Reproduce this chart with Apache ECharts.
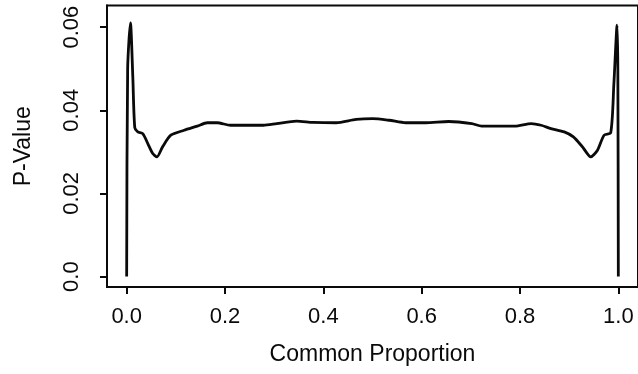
<!DOCTYPE html>
<html>
<head>
<meta charset="utf-8">
<script src="https://cdn.jsdelivr.net/npm/echarts@6/dist/echarts.min.js"></script>
<style>
html,body{margin:0;padding:0;background:#fff;}
#chart{width:638px;height:374px;}
</style>
</head>
<body>
<div id="chart"></div>
<script>
// Common proportion (x) and P-value (y)
var proportion = [0, 0.002, 0.0077, 0.0125, 0.0165, 0.0226, 0.0327, 0.043, 0.053, 0.0616,
  0.073, 0.0898, 0.1167, 0.1437, 0.164, 0.184, 0.211, 0.251, 0.278, 0.305,
  0.3455, 0.379, 0.426, 0.4666, 0.5, 0.534, 0.5675, 0.608, 0.655, 0.702,
  0.722, 0.756, 0.7895, 0.823, 0.843, 0.863, 0.890, 0.9086, 0.927, 0.944,
  0.9576, 0.971, 0.9845, 0.991, 0.9975, 0.999, 1.0];
var pValue = [0, 0.05, 0.061, 0.048, 0.0358, 0.0348, 0.0344, 0.032, 0.0296, 0.0288,
  0.0312, 0.034, 0.0352, 0.0362, 0.037, 0.037, 0.0364, 0.0364, 0.0364, 0.0368,
  0.0374, 0.0371, 0.037, 0.0378, 0.038, 0.0376, 0.037, 0.037, 0.0373, 0.0368,
  0.0362, 0.0362, 0.0362, 0.0368, 0.0364, 0.0356, 0.0348, 0.0336, 0.0312, 0.0288,
  0.0304, 0.034, 0.0346, 0.0465, 0.0605, 0.05, 0];
var xTicks = [0, 0.2, 0.4, 0.6, 0.8, 1.0];
var xTickLabels = ['0.0', '0.2', '0.4', '0.6', '0.8', '1.0'];
var yTicks = [0, 0.02, 0.04, 0.06];
var yTickLabels = ['0.0', '0.02', '0.04', '0.06'];

var points = proportion.map(function (x, i) { return [x, pValue[i]]; });
function lab(ticks, labels) {
  return function (v) {
    for (var i = 0; i < ticks.length; i++) { if (Math.abs(ticks[i] - v) < 1e-9) return labels[i]; }
    return '';
  };
}
var font = '"Liberation Sans", Arial, Helvetica, sans-serif';
var ink = '#0a0a0a';
var chart = echarts.init(document.getElementById('chart'), null, {renderer: 'canvas'});
chart.setOption({
  animation: false,
  grid: {left: 107, top: 5.5, width: 535, height: 281.5, show: true, borderColor: ink, borderWidth: 2, backgroundColor: 'transparent'},
  xAxis: {
    type: 'value', min: -0.04, max: 1.04,
    name: 'Common Proportion', nameLocation: 'middle', nameGap: 56,
    nameTextStyle: {fontFamily: font, fontSize: 23, color: ink},
    axisLine: {show: true, onZero: false, lineStyle: {color: ink, width: 2}},
    axisTick: {show: true, customValues: xTicks, length: 7, lineStyle: {color: ink, width: 2}},
    axisLabel: {customValues: xTicks, formatter: lab(xTicks, xTickLabels), margin: 19, fontFamily: font, fontSize: 22, color: ink},
    splitLine: {show: false}
  },
  yAxis: {
    type: 'value', min: -0.0025, max: 0.0652,
    name: 'P-Value', nameLocation: 'middle', nameGap: 72, nameRotate: 90,
    nameTextStyle: {fontFamily: font, fontSize: 23, color: ink},
    axisLine: {show: true, onZero: false, lineStyle: {color: ink, width: 2}},
    axisTick: {show: true, customValues: yTicks, length: 7, lineStyle: {color: ink, width: 2}},
    axisLabel: {customValues: yTicks, formatter: lab(yTicks, yTickLabels), rotate: 90, margin: 24, fontFamily: font, fontSize: 22, color: ink},
    splitLine: {show: false}
  },
  series: [{
    type: 'line', data: points, smooth: 0.25, symbol: 'none',
    lineStyle: {color: ink, width: 2.8}
  }]
});
</script>
</body>
</html>
